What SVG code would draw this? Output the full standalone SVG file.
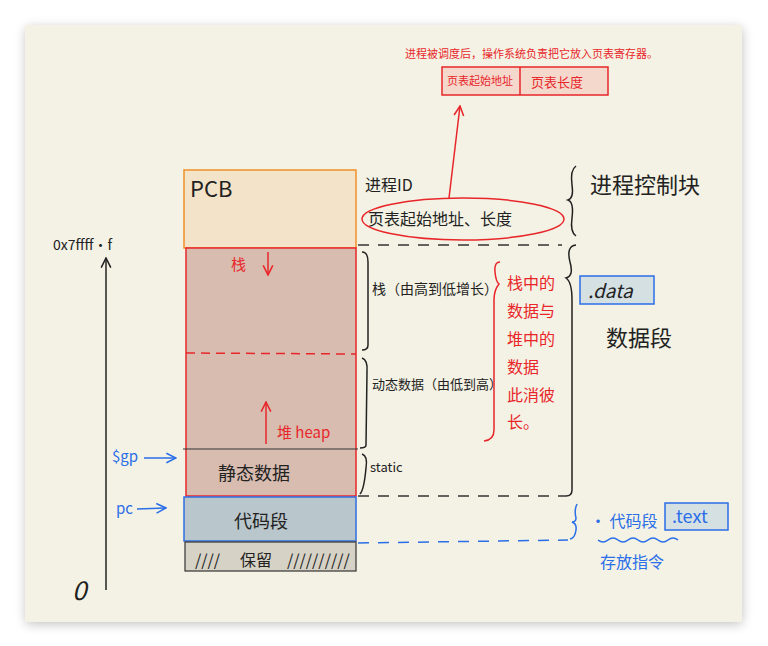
<svg xmlns="http://www.w3.org/2000/svg" width="768" height="646" viewBox="0 0 768 646">
<defs>
<style>
.t{font-family:"Noto Sans CJK SC","Liberation Sans",sans-serif;fill:#222}
.r{fill:#e8262a}
.b{fill:#2a6ee8}
.ln{fill:none;stroke:#222;stroke-width:1.5}
.rl{fill:none;stroke:#e8262a;stroke-width:1.5}
.bl{fill:none;stroke:#2a6ee8;stroke-width:1.5}
</style>
<marker id="ar" viewBox="0 0 10 10" refX="9" refY="5" markerWidth="8" markerHeight="8" orient="auto-start-reverse"><path d="M1,1 L9,5 L1,9" fill="none" stroke="context-stroke" stroke-width="1.3"/></marker>
<filter id="sh" x="-5%" y="-5%" width="110%" height="110%"><feGaussianBlur stdDeviation="6"/></filter>
</defs>
<rect width="768" height="646" fill="#ffffff"/>
<rect x="26" y="28" width="716" height="596" fill="#000" opacity="0.25" filter="url(#sh)"/>
<rect x="25" y="25" width="717" height="597" fill="#f4f2e4"/>

<g id="memory">
<rect id="pcb" x="184" y="170" width="172" height="78" fill="#f3e3c9" stroke="#f0912a" stroke-width="1.5"/>
<text class="t" x="190" y="197" font-size="22">PCB</text>
<rect id="dyn" x="186" y="248" width="170" height="248" fill="#d8bcb0" stroke="#e8262a" stroke-width="1.5"/>
<line x1="186" y1="353" x2="356" y2="354" stroke="#e8262a" stroke-width="1.5" stroke-dasharray="9,6"/>
<line x1="183" y1="449" x2="358" y2="449" stroke="#333" stroke-width="1.2"/>
<rect id="code" x="184" y="497" width="172" height="44" fill="#b9c6cb" stroke="#2f6fe0" stroke-width="1.5"/>
<rect id="reserve" x="185" y="542" width="171" height="29" fill="#d6d2c6" stroke="#333" stroke-width="1.2"/>
<text class="t r" x="231" y="270" font-size="15">栈</text>
<line class="rl" x1="268" y1="252" x2="268" y2="275" marker-end="url(#ar)"/>
<line class="rl" x1="266" y1="444" x2="266" y2="402" marker-end="url(#ar)"/>
<text class="t r" x="277" y="438" font-size="15">堆 heap</text>
<text class="t" x="218" y="480" font-size="18">静态数据</text>
<text class="t" x="234" y="528" font-size="18">代码段</text>
<text class="t" x="195" y="566" font-size="16">////</text>
<text class="t" x="240" y="566" font-size="16">保留</text>
<text class="t" x="287" y="566" font-size="16">//////////</text>
</g>

<g id="axis">
<line class="ln" x1="106" y1="590" x2="106" y2="258" marker-end="url(#ar)"/>
<text class="t" x="53" y="250" font-size="14">0x7ffff·f</text>
<text class="t" x="72" y="600" font-size="26" font-style="italic">0</text>
<text class="t b" x="112" y="462" font-size="15">$gp</text>
<line class="bl" x1="144" y1="458" x2="176" y2="458" marker-end="url(#ar)"/>
<text class="t b" x="116" y="514" font-size="15">pc</text>
<line class="bl" x1="137" y1="509" x2="166" y2="508" marker-end="url(#ar)"/>
</g>

<g id="pcb-notes">
<text class="t" x="365" y="191" font-size="16">进程ID</text>
<text class="t" x="368" y="225" font-size="16">页表起始地址、长度</text>
<ellipse cx="463" cy="219" rx="101" ry="21" class="rl"/>
<path class="ln" d="M576,166 Q570,170 572,185 Q574,198 568,200 Q574,202 572,218 Q570,232 576,236"/>
<text class="t" x="590" y="193" font-size="22">进程控制块</text>
</g>

<g id="page-table">
<text class="t r" x="405" y="58" font-size="11">进程被调度后，操作系统负责把它放入页表寄存器。</text>
<rect x="442" y="67" width="166" height="28" fill="#f4d8cc" stroke="#e8262a" stroke-width="1.5"/>
<line x1="520" y1="67" x2="520" y2="95" stroke="#e8262a" stroke-width="1.5"/>
<text class="t r" x="447" y="85" font-size="11">页表起始地址</text>
<text class="t r" x="531" y="87" font-size="13">页表长度</text>
</g>

<g id="connectors">
<line class="rl" x1="449" y1="198" x2="460" y2="106" marker-end="url(#ar)"/>
<line x1="358" y1="245" x2="562" y2="245" stroke="#333" stroke-width="1.5" stroke-dasharray="11,9"/>
<line x1="358" y1="496" x2="566" y2="496" stroke="#333" stroke-width="1.5" stroke-dasharray="11,9"/>
<line x1="358" y1="543" x2="568" y2="540" stroke="#2a6ee8" stroke-width="1.5" stroke-dasharray="11,9"/>
</g>

<g id="data-notes">
<path class="ln" d="M576,245 Q566,246 570,262 Q574,276 566,278 Q572,282 572,300 L572,490 Q572,496 566,496"/>
<rect x="580" y="276" width="74" height="28" fill="#d5e0e3" stroke="#2a6ee8" stroke-width="1.5"/>
<text class="t" x="588" y="298" font-size="19" font-style="italic">.data</text>
<text class="t" x="606" y="346" font-size="22">数据段</text>
<path class="ln" d="M362,252 Q368,252 368,262 L368,345 Q368,350 362,350"/>
<path class="ln" d="M362,358 Q368,360 367,372 L366,445 Q366,448 360,448"/>
<path class="ln" d="M362,454 Q368,456 366,468 Q364,490 360,494"/>
<text class="t" x="372" y="294" font-size="14">栈（由高到低增长）</text>
<text class="t" x="372" y="389" font-size="13">动态数据（由低到高）</text>
<text class="t" x="370" y="472" font-size="13">static</text>
<path class="rl" d="M500,262 Q494,262 495,272 Q496,282 499,284 Q494,290 494,300 L494,430 Q494,440 484,441"/>
<g class="t r" font-size="16">
<text x="507" y="289">栈中的</text>
<text x="507" y="317">数据与</text>
<text x="507" y="345">堆中的</text>
<text x="507" y="373">数据</text>
<text x="507" y="401">此消彼</text>
<text x="507" y="428">长。</text>
</g>
</g>

<g id="text-notes">
<path class="bl" d="M577,504 Q574,510 576,518 Q576,522 572,522 Q577,524 576,530 Q575,538 570,539"/>
<text class="t b" x="590" y="527" font-size="16">· 代码段</text>
<rect x="665" y="503" width="63" height="27" fill="#d5e0e3" stroke="#2a6ee8" stroke-width="1.5"/>
<text class="t b" x="672" y="523" font-size="18">.text</text>
<path class="bl" d="M598,540 q5,4 10,0 t10,0 t10,0 t10,0 t10,0 t10,0 t10,0 t10,0"/>
<text class="t b" x="600" y="568" font-size="16">存放指令</text>
</g>
</svg>
